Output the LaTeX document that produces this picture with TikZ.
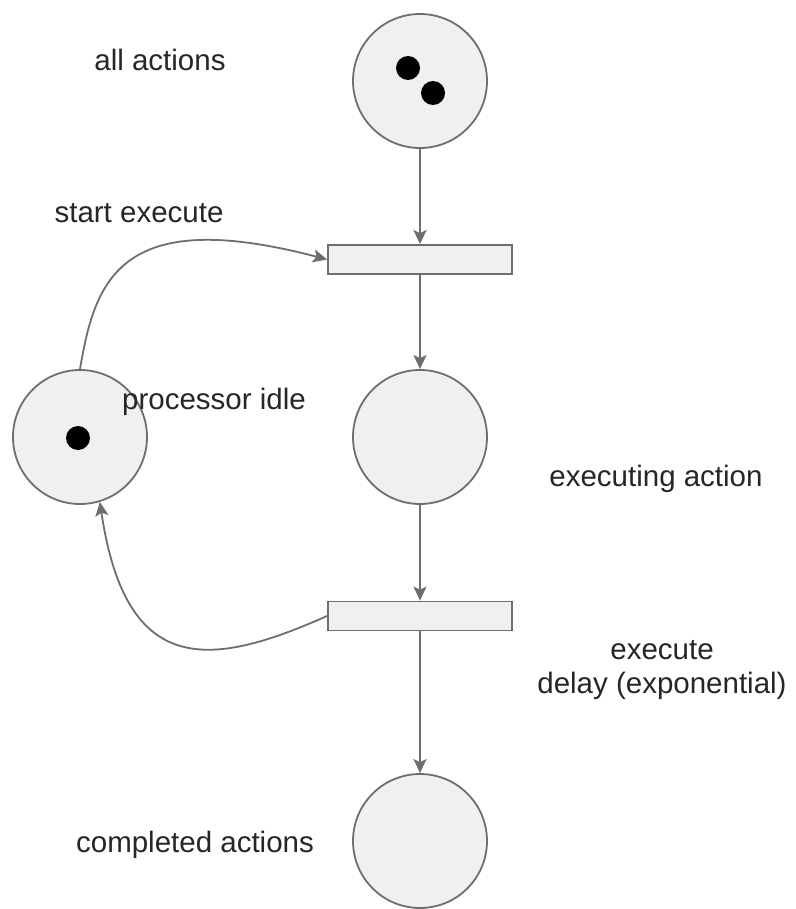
\documentclass[tikz,border=0pt]{standalone}
\usepackage{fontspec}
\setmainfont{Liberation Sans}
\usetikzlibrary{arrows.meta}
\definecolor{edge}{HTML}{6E6E6E}
\definecolor{placefill}{HTML}{F0F0F0}
\definecolor{labelink}{HTML}{262626}
\begin{document}
\begin{tikzpicture}[x=1pt,y=-1pt,
  place/.style={circle,draw=edge,fill=placefill,line width=1.8pt,minimum size=134pt,inner sep=0pt},
  trans/.style={rectangle,draw=edge,fill=placefill,line width=1.8pt,minimum width=184pt,minimum height=29pt,inner sep=0pt},
  token/.style={circle,fill=black,minimum size=24pt,inner sep=0pt},
  arc/.style={draw=edge,line width=1.8pt,-{Stealth[length=14pt,width=13pt,inset=3pt]}},
  lbl/.style={text=labelink,font=\fontsize{29.5}{34}\selectfont,inner sep=0pt,align=center}]
\useasboundingbox (0,0) rectangle (795,909);
\fill[white] (0,0) rectangle (795,909);

% places
\node[place] (all) at (420,81) {};
\node[place] (exec) at (420,437) {};
\node[place] (done) at (420,841) {};
\node[place] (idle) at (80,437) {};

% tokens
\node[token] (tk1) at (408,68) {};
\node[token] (tk2) at (433,93) {};
\node[token] (tk3) at (78,438) {};

% transitions
\node[trans] (start) at (420,259.5) {};
\node[trans] (delay) at (420,616) {};

% arcs
\draw[arc] (all.south) -- (start.north);
\draw[arc] (start.south) -- (exec.north);
\draw[arc] (exec.south) -- (delay.north);
\draw[arc] (delay.south) -- (done.north);
\draw[arc] (idle.north) .. controls (95,280) and (120,205) .. (start.west);
\draw[arc] (delay.west) .. controls (210,668) and (126,678) .. (idle.-73);

% labels
\node[lbl] (lall) at (160,60) {all actions};
\node[lbl] (lstart) at (139,213) {start execute};
\node[lbl] (lidle) at (214,402) {processor idle};
\node[lbl] (lexec) at (656,479) {executing action};
\node[lbl] (ldelay) at (662,670) {execute\\delay (exponential)};
\node[lbl] (ldone) at (195,845) {completed actions};
\end{tikzpicture}
\end{document}
